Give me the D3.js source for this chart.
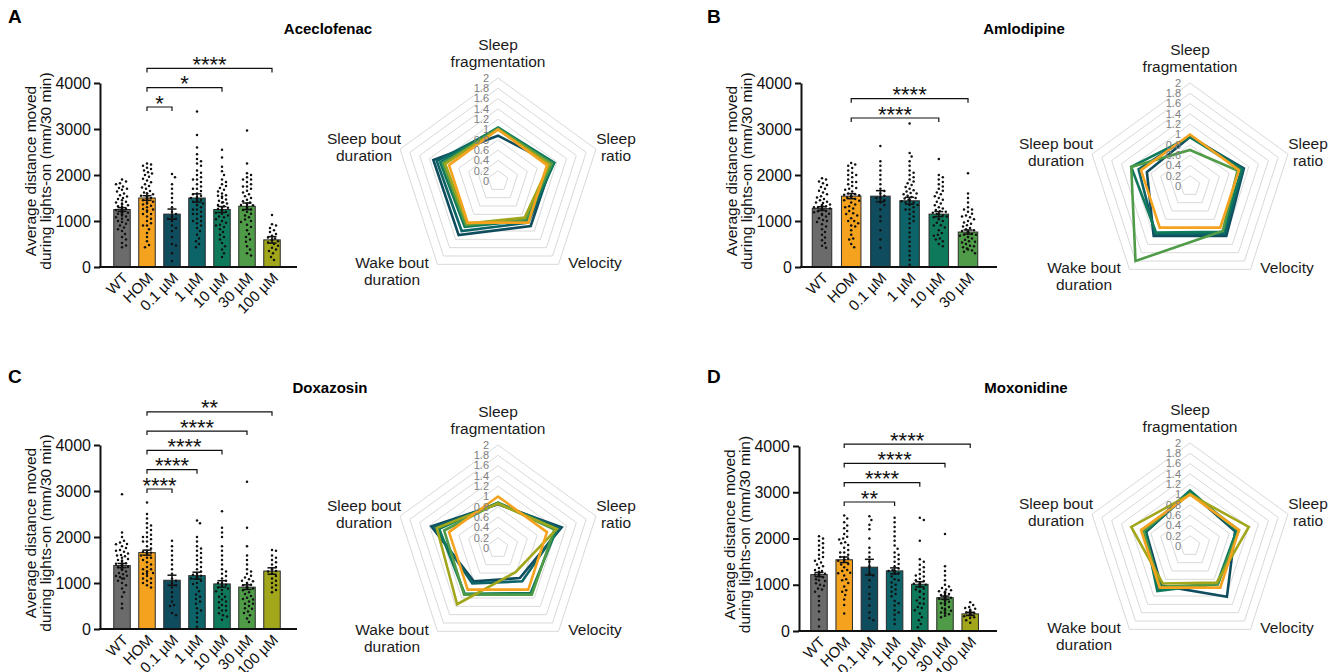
<!DOCTYPE html>
<html>
<head>
<meta charset="utf-8">
<script src="https://cdn.jsdelivr.net/npm/d3@7"></script>
<style>
  body { margin: 0; background: #fff; }
  svg { display: block; font-family: "Liberation Sans", Arial, sans-serif; }
</style>
</head>
<body>
<svg id="fig" width="1342" height="672"></svg>
<script>
// ---------- data ----------
const groups7 = ["WT", "HOM", "0.1 µM", "1 µM", "10 µM", "30 µM", "100 µM"];
const groups6 = groups7.slice(0, 6);
const yTicks = [0, 1000, 2000, 3000, 4000];
const radarTicks = [0, 0.2, 0.4, 0.6, 0.8, 1, 1.2, 1.4, 1.6, 1.8, 2];
const radarAxes = [["Sleep", "fragmentation"], ["Sleep", "ratio"], ["Velocity"], ["Wake bout", "duration"], ["Sleep bout", "duration"]];
const groupColors = ["#6b6b6b", "#f5a21e", "#0f4d5e", "#0c6468", "#0f7a5b", "#4f9b47", "#a1a61b"];

// Aceclofenac
const aceMeans = [1250, 1500, 1150, 1500, 1250, 1320, 590];
const aceSem = [40, 50, 110, 90, 65, 70, 70];
const aceDots = [
  [430,470,520,600,650,720,780,820,860,900,940,980,1000,1020,1050,1080,1100,1120,1140,1160,1180,1200,1210,1230,1250,1260,1280,1300,1320,1340,1360,1380,1400,1420,1450,1480,1500,1530,1560,1600,1640,1680,1700,1720,1750,1800,1820,1860,1900,1250,1150,1310,1240,1190,1290,1220],
  [430,480,560,650,740,820,900,950,1000,1050,1100,1150,1200,1230,1260,1300,1330,1360,1400,1420,1450,1480,1500,1520,1550,1580,1600,1620,1650,1700,1730,1760,1800,1840,1880,1920,1960,2000,2030,2060,2100,2130,2160,2200,2230,2250,1500,1540,1450,1380,1600,1250,900,1150],
  [130,300,470,500,650,780,900,1000,1050,1100,1150,1200,1300,1400,1500,1600,1700,1800,1950,2020,1050,850],
  [430,500,560,620,700,780,850,900,950,1000,1050,1100,1150,1200,1250,1300,1350,1380,1420,1450,1480,1500,1520,1550,1580,1600,1650,1700,1750,1800,1850,1900,1950,2000,2050,2100,2200,2250,2300,2350,2450,2600,2870,3380,1500,1460,1350,1000,1150,1700,1250,1900],
  [220,300,380,450,520,600,650,700,760,820,870,920,960,1000,1040,1080,1120,1160,1200,1230,1260,1290,1320,1350,1380,1410,1440,1470,1500,1530,1560,1600,1640,1680,1720,1760,1800,1850,1900,2000,2080,2180,2380,2550,1250,1300,1180,1100,900,1400,1550],
  [250,300,380,450,550,650,720,800,870,920,980,1030,1080,1120,1160,1200,1240,1280,1310,1340,1370,1400,1430,1460,1500,1540,1580,1620,1660,1700,1750,1800,1850,1900,1950,2000,2040,2250,2970,1320,1350,1380,1250,1750,1900,1000,600],
  [150,220,300,350,380,420,460,500,530,560,600,640,680,720,760,800,850,900,930,1130,580,620]
];
const aceSig = [[1, 2, "*"], [1, 4, "*"], [1, 6, "****"]];
const aceRadar = [
  [1, 1, 1, 1, 1],
  [0.88, 1.1, 1.08, 1.3, 1.32],
  [1.02, 1.14, 1.0, 1.2, 1.25],
  [1.04, 1.15, 0.95, 1.1, 1.18],
  [1.02, 1.1, 0.92, 1.06, 1.12],
  [1.0, 1.05, 0.88, 1.02, 1.08]
];

// Amlodipine
const amlMeans = [1270, 1540, 1540, 1440, 1150, 760];
const amlSem = [40, 55, 120, 75, 55, 45];
const amlDots = [
  [420,460,520,580,640,700,760,820,880,930,980,1020,1060,1100,1130,1160,1190,1220,1240,1260,1280,1300,1320,1340,1360,1390,1420,1450,1480,1510,1540,1580,1620,1660,1700,1740,1780,1820,1860,1900,1930,1270,1250,1300,1210,1150,1350,1000,1400],
  [430,500,600,700,800,880,950,1000,1060,1120,1170,1220,1270,1320,1360,1400,1440,1480,1510,1540,1570,1600,1640,1680,1720,1760,1800,1850,1900,1950,2000,2050,2100,2150,2200,2230,2260,1540,1560,1520,1580,1300,1450,1700,1000,1150,1850,2000,900,620],
  [420,600,800,1000,1100,1250,1400,1450,1500,1550,1600,1700,1800,1900,2000,2100,2200,2300,2630,1350,1500,1650],
  [50,150,250,350,450,550,650,750,850,950,1050,1100,1150,1200,1250,1300,1350,1400,1430,1460,1490,1520,1550,1580,1610,1640,1670,1700,1740,1780,1820,1860,1900,1950,2000,2050,2100,2200,2300,2400,2480,3120,1440,1460,1400,1350,1500,1600,1250,1000],
  [450,500,560,620,680,740,800,860,910,960,1000,1040,1080,1120,1150,1180,1210,1240,1270,1300,1340,1380,1420,1460,1500,1540,1580,1620,1660,1700,1750,1800,1850,1900,1950,2000,2350,1150,1100,1200,1050,900,700,600],
  [300,330,360,400,430,460,500,530,560,590,620,650,680,700,720,740,760,780,800,820,850,880,910,940,970,1000,1040,1080,1120,1160,1200,1250,1300,1400,1500,1600,2040,760,770,750,700,650,550,450,380,1100,1250]
];
const amlSig = [[1, 4, "****"], [1, 5, "****"]];
const amlRadar = [
  [1, 1, 1, 1, 1],
  [0.95, 1.1, 1.2, 1.2, 0.88],
  [0.97, 1.08, 1.15, 1.15, 1.05],
  [0.95, 1.05, 1.1, 1.12, 1.2],
  [0.7, 0.97, 1.08, 1.8, 1.2]
];

// Doxazosin
const doxMeans = [1380, 1660, 1060, 1160, 980, 910, 1260];
const doxSem = [45, 55, 110, 75, 70, 50, 70];
const doxDots = [
  [450,550,700,800,880,950,1000,1050,1100,1130,1160,1190,1220,1250,1280,1310,1340,1370,1400,1430,1460,1490,1520,1550,1580,1610,1640,1680,1720,1760,1800,1840,1880,1920,2000,2100,2930,1380,1400,1350,1420,1300,1150,1100,1500,1600,1700,1850],
  [900,950,1000,1050,1100,1150,1200,1250,1300,1350,1400,1450,1500,1550,1600,1650,1700,1750,1800,1850,1900,1950,2000,2050,2100,2150,2200,2250,2300,2400,2500,2750,1660,1680,1640,1200,1220,1250,1900,2000,1300,1100,1000,1550],
  [300,350,520,600,700,800,900,1000,1100,1200,1300,1400,1500,1600,1700,1800,1920,1050,950,500],
  [50,150,250,350,450,550,650,750,820,900,980,1050,1100,1150,1200,1250,1300,1350,1400,1450,1500,1550,1600,1650,1700,1750,1800,1900,2000,2300,2360,1160,1180,1140,1120,1000,700,400,600,1100],
  [200,270,340,400,460,520,580,640,700,760,820,880,940,1000,1050,1100,1150,1200,1250,1300,1400,1500,1600,1700,1800,2000,2100,2200,2560,980,960,1000,900,850,600,500,400,300,700],
  [150,230,300,380,440,500,550,600,640,680,720,760,800,840,880,920,960,1000,1040,1080,1120,1160,1200,1250,1300,1400,1500,1600,1800,2200,3200,910,900,880,920,950,650,550,450,350,1000,1050],
  [800,850,900,950,1000,1050,1100,1150,1200,1250,1300,1350,1400,1450,1500,1550,1600,1700,1720,1260]
];
const doxSig = [[1, 2, "****"], [1, 3, "****"], [1, 4, "****"], [1, 5, "****"], [1, 6, "**"]];
const doxRadar = [
  [1, 1, 1, 1, 1],
  [0.85, 1.3, 0.72, 0.8, 1.36],
  [0.87, 1.25, 0.8, 0.85, 1.3],
  [0.88, 1.2, 1.08, 1.1, 1.2],
  [0.88, 1.15, 1.12, 1.12, 1.1],
  [0.86, 1.2, 0.58, 1.35, 1.25]
];

// Moxonidine
const moxMeans = [1220, 1540, 1380, 1300, 1010, 720, 370];
const moxSem = [45, 60, 170, 65, 55, 35, 35];
const moxDots = [
  [100,250,420,550,650,750,850,920,980,1030,1080,1120,1160,1200,1240,1280,1320,1360,1400,1440,1480,1520,1560,1600,1650,1700,1750,1800,1850,1900,1950,2000,2050,1220,1200,1250,1180,1300,1100,1000,900],
  [380,560,680,780,880,960,1040,1120,1200,1260,1320,1380,1440,1500,1550,1600,1650,1700,1750,1800,1860,1920,1980,2040,2100,2160,2220,2280,2350,2430,2500,1540,1560,1520,1450,1600,1300,1100,1900,2000,1700,850,1250],
  [230,280,400,550,700,800,950,1100,1250,1400,1600,1800,2000,2200,2300,2480,1500,1200,1700,2400],
  [150,250,350,450,550,650,750,850,950,1050,1120,1180,1240,1300,1350,1400,1450,1500,1550,1600,1650,1700,1780,1850,1950,2050,2150,2250,2350,2450,1300,1320,1280,1250,1100,1000,900,800,600,400],
  [80,150,230,300,380,450,520,590,660,730,800,860,920,980,1030,1080,1130,1180,1230,1280,1330,1380,1430,1500,1550,1950,2400,2450,1010,1000,1020,950,900,850,700,600,500,1100,1200],
  [300,330,360,400,440,480,520,560,600,630,660,690,720,740,760,780,800,820,840,860,880,900,930,960,1000,1100,1200,1300,1400,2100,720,730,700,680,650,750,770,800,850,500,450,400,380,600],
  [180,230,280,300,320,340,360,380,400,420,440,460,480,500,520,560,620,370,350,390]
];
const moxSig = [[1, 3, "**"], [1, 4, "****"], [1, 5, "****"], [1, 6, "****"]];
const moxRadar = [
  [1, 1, 1, 1, 1],
  [1.05, 0.92, 1.22, 0.95, 0.9],
  [1.05, 0.95, 0.92, 1.05, 0.9],
  [1.08, 0.95, 0.9, 1.08, 0.92],
  [1.02, 1.0, 0.92, 0.98, 0.95],
  [1.0, 1.2, 0.88, 0.9, 1.2]
];

// ---------- layout ----------
const panels = [
  { letter: "A", title: "Aceclofenac", lx: 8, ly: 23, tx: 328, ty: 34,
    groups: groups7, means: aceMeans, sem: aceSem, dots: aceDots, sig: aceSig, radar: aceRadar,
    axisX: 100, xEnd: 297, y0: 267, yTop: 83, c0: 122, step: 25, barW: 16.5, sigBase: 24,
    rcx: 498, rcy: 181 },
  { letter: "B", title: "Amlodipine", lx: 707, ly: 23, tx: 1024, ty: 34,
    groups: groups6, means: amlMeans, sem: amlSem, dots: amlDots, sig: amlSig, radar: amlRadar,
    axisX: 801, xEnd: 997, y0: 267, yTop: 83, c0: 822, step: 29.2, barW: 19.5, sigBase: 35,
    rcx: 1190, rcy: 186 },
  { letter: "C", title: "Doxazosin", lx: 8, ly: 383, tx: 330, ty: 393,
    groups: groups7, means: doxMeans, sem: doxSem, dots: doxDots, sig: doxSig, radar: doxRadar,
    axisX: 100, xEnd: 297, y0: 629, yTop: 445, c0: 122, step: 25, barW: 16.5, sigBase: 44,
    rcx: 498, rcy: 548 },
  { letter: "D", title: "Moxonidine", lx: 707, ly: 383, tx: 1026, ty: 393,
    groups: groups7, means: moxMeans, sem: moxSem, dots: moxDots, sig: moxSig, radar: moxRadar,
    axisX: 799, xEnd: 997, y0: 631, yTop: 446, c0: 819, step: 25.2, barW: 16.5, sigBase: 56,
    rcx: 1190, rcy: 546 }
];

const svg = d3.select("#fig");

// simple beeswarm so the dots spread across the bar
function swarm(values, y, cx, halfW) {
  const D = 4.0;
  const placed = [];
  values.map(v => y(v)).sort((a, b) => a - b).forEach(py => {
    let best = 0;
    for (let k = 0; k <= 2 * halfW; k++) {
      const off = (k % 2 ? 1 : -1) * Math.ceil(k / 2);
      if (Math.abs(off) > halfW) continue;
      let ok = true;
      for (const p of placed) {
        if (Math.abs(p.y - py) < D && Math.hypot(p.x - (cx + off), p.y - py) < D) { ok = false; break; }
      }
      if (ok) { best = off; break; }
    }
    placed.push({ x: cx + best, y: py });
  });
  return placed;
}

function drawBars(p) {
  const g = svg.append("g");
  const n = p.groups.length;
  const pad = 1 - p.barW / p.step;
  const x = d3.scaleBand().domain(p.groups)
    .range([p.c0 - p.step / 2, p.c0 - p.step / 2 + n * p.step])
    .paddingInner(pad).paddingOuter(pad / 2);
  const y = d3.scaleLinear().domain([0, 4000]).range([p.y0, p.yTop]);
  const cx = i => x(p.groups[i]) + x.bandwidth() / 2;

  g.selectAll("rect.bar").data(p.means).join("rect")
    .attr("class", "bar")
    .attr("x", (d, i) => x(p.groups[i]))
    .attr("y", d => y(d))
    .attr("width", x.bandwidth())
    .attr("height", d => p.y0 - y(d))
    .attr("fill", (d, i) => groupColors[i])
    .attr("stroke", "#2b2b2b")
    .attr("stroke-width", 1);

  p.dots.forEach((vals, i) => {
    g.append("g").selectAll("circle")
      .data(swarm(vals, y, cx(i), x.bandwidth() / 2 - 1.5))
      .join("circle")
      .attr("cx", d => d.x).attr("cy", d => d.y).attr("r", 1.25)
      .attr("fill", "#111");
  });

  // error bars (SEM)
  const eb = g.append("g").attr("stroke", "#111").attr("stroke-width", 1.5);
  p.means.forEach((m, i) => {
    const c = cx(i), lo = y(m - p.sem[i]), hi = y(m + p.sem[i]);
    eb.append("line").attr("x1", c).attr("x2", c).attr("y1", lo).attr("y2", hi);
    eb.append("line").attr("x1", c - 4.5).attr("x2", c + 4.5).attr("y1", hi).attr("y2", hi);
    eb.append("line").attr("x1", c - 4.5).attr("x2", c + 4.5).attr("y1", lo).attr("y2", lo);
  });

  // axes
  const ax = g.append("g").attr("transform", `translate(${p.axisX},0)`)
    .call(d3.axisLeft(y).tickValues(yTicks).tickFormat(d3.format("d")).tickSize(6).tickSizeOuter(0).tickPadding(3));
  ax.select(".domain").attr("stroke", "#111").attr("stroke-width", 2);
  ax.selectAll(".tick line").attr("stroke", "#111").attr("stroke-width", 2);
  ax.selectAll(".tick text").attr("font-size", 16).attr("fill", "#111")
    .attr("font-family", "Liberation Sans, Arial, sans-serif");

  g.append("line").attr("x1", p.axisX - 1).attr("x2", p.xEnd)
    .attr("y1", p.y0).attr("y2", p.y0).attr("stroke", "#111").attr("stroke-width", 2);

  g.selectAll("text.xl").data(p.groups).join("text")
    .attr("class", "xl")
    .attr("transform", (d, i) => `translate(${cx(i) + 7},${p.y0 + 12}) rotate(-45)`)
    .attr("text-anchor", "end")
    .attr("font-size", 15).attr("fill", "#111")
    .text(d => d);

  // y label
  const yMid = (p.y0 + p.yTop) / 2 - 4;
  [["Average distance moved", 36], ["during lights-on (mm/30 min)", 51]].forEach(([t, off]) => {
    g.append("text")
      .attr("transform", `translate(${p.axisX - 100 + off},${yMid}) rotate(-90)`)
      .attr("text-anchor", "middle").attr("font-size", 15.5).attr("fill", "#111")
      .text(t);
  });

  // significance brackets
  const sg = g.append("g");
  p.sig.forEach(([a, b, lab], lvl) => {
    const by = p.yTop + p.sigBase - lvl * 19.3;
    const x1 = cx(a), x2 = cx(b);
    sg.append("path")
      .attr("d", `M${x1},${by + 4}V${by}H${x2}V${by + 4}`)
      .attr("fill", "none").attr("stroke", "#111").attr("stroke-width", 1.2);
    sg.append("text").attr("x", (x1 + x2) / 2).attr("y", by + 3.5)
      .attr("text-anchor", "middle").attr("font-size", 22).attr("fill", "#111")
      .text(lab);
  });

  // panel letter and title
  svg.append("text").attr("x", p.lx).attr("y", p.ly).attr("font-size", 19).attr("font-weight", "bold").text(p.letter);
  svg.append("text").attr("x", p.tx).attr("y", p.ty).attr("text-anchor", "middle")
    .attr("font-size", 15).attr("font-weight", "bold").text(p.title);
}

function drawRadar(p) {
  const g = svg.append("g").attr("transform", `translate(${p.rcx},${p.rcy})`);
  const r = d3.scaleLinear().domain([0, 2]).range([0, 103]);
  const k = radarAxes.length;
  const line = d3.lineRadial()
    .angle((d, i) => i * 2 * Math.PI / k)
    .radius(d => r(d))
    .curve(d3.curveLinearClosed);

  g.selectAll("path.ring").data(radarTicks.slice(1)).join("path")
    .attr("class", "ring")
    .attr("d", t => line(d3.range(k).map(() => t)))
    .attr("fill", "none").attr("stroke", "#d9d9d9").attr("stroke-width", 1);

  // HOM drawn last so it sits on top
  const order = d3.range(1, p.radar.length).concat([0]);
  order.forEach(si => {
    g.append("path").attr("d", line(p.radar[si]))
      .attr("fill", "none").attr("stroke", groupColors[si + 1])
      .attr("stroke-width", 2.6).attr("stroke-linejoin", "miter");
  });

  // value labels sit above the series, as in the original
  g.selectAll("text.rt").data(radarTicks).join("text")
    .attr("class", "rt")
    .attr("x", -9).attr("y", t => -r(t)).attr("dy", "0.35em")
    .attr("text-anchor", "end").attr("font-size", 11).attr("fill", "#808080")
    .text(t => String(t));

  const labelPos = [[0, -131], [118, -37], [97, 87], [-106, 87], [-134, -37]];
  radarAxes.forEach((lines, i) => {
    const t = g.append("text").attr("text-anchor", "middle").attr("font-size", 15.5).attr("fill", "#1a1a1a");
    lines.forEach((s, j) => {
      t.append("tspan").attr("x", labelPos[i][0]).attr("y", labelPos[i][1] + j * 16.5).text(s);
    });
  });
}

panels.forEach(p => { drawBars(p); drawRadar(p); });
</script>
</body>
</html>
